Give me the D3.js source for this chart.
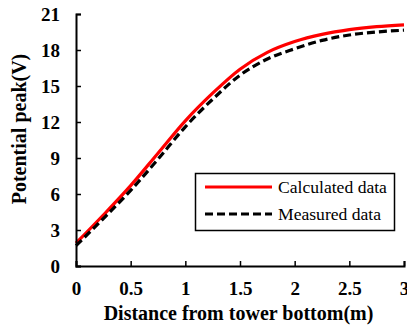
<!DOCTYPE html>
<html><head><meta charset="utf-8">
<script src="https://cdn.jsdelivr.net/npm/d3@7"></script>
<style>body{margin:0;background:#fff}svg{display:block}</style>
</head><body><svg id="c" width="407" height="327" font-family="Liberation Serif"></svg>
<script>
const xValues = [0, 0.25, 0.5, 0.75, 1, 1.25, 1.5, 1.75, 2, 2.25, 2.5, 2.75, 3];
const calculated = [1.9, 4.25, 6.7, 9.4, 12.1, 14.4, 16.4, 17.8, 18.7, 19.3, 19.7, 19.95, 20.1];
const measured = [1.7, 3.95, 6.3, 8.9, 11.6, 13.9, 15.9, 17.25, 18.1, 18.8, 19.25, 19.5, 19.65];
const xTicks = [0, 0.5, 1, 1.5, 2, 2.5, 3];
const yTicks = [0, 3, 6, 9, 12, 15, 18, 21];
const seriesNames = ["Calculated data", "Measured data"];

const svg = d3.select("#c");
const x = d3.scaleLinear().domain([0, 3]).range([76, 404]);
const y = d3.scaleLinear().domain([0, 21]).range([266, 14]);

const line = d3.line().x((d, i) => x(xValues[i])).y(d => y(d)).curve(d3.curveMonotoneX);

svg.append("path").datum(calculated).attr("d", line)
  .attr("fill", "none").attr("stroke", "#ff0000").attr("stroke-width", 3.2);
svg.append("path").datum(measured).attr("d", line)
  .attr("fill", "none").attr("stroke", "#000").attr("stroke-width", 3.2)
  .attr("stroke-dasharray", "8,4");

const xAxis = svg.append("g").attr("transform", "translate(0,266)")
  .call(d3.axisBottom(x).tickValues(xTicks).tickSize(-5).tickPadding(29).tickFormat(d3.format("")));
const yAxis = svg.append("g").attr("transform", "translate(76,0)")
  .call(d3.axisLeft(y).tickValues(yTicks).tickSize(-5).tickPadding(16));
[xAxis, yAxis].forEach(g => {
  g.attr("font-family", "Liberation Serif").attr("font-size", 19).attr("font-weight", "bold");
  g.select(".domain").attr("stroke", "#000").attr("stroke-width", 2);
  g.selectAll(".tick line").attr("stroke", "#000").attr("stroke-width", 1.5);
  g.selectAll("text").attr("fill", "#000");
});
xAxis.selectAll("text").attr("dy", "0");
yAxis.selectAll("text").attr("dy", "0.34em");

svg.append("text").attr("x", 238.5).attr("y", 320).attr("text-anchor", "middle")
  .attr("font-size", 20).attr("font-weight", "bold")
  .text("Distance from tower bottom(m)");
svg.append("text").attr("transform", "translate(26,129) rotate(-90)")
  .attr("text-anchor", "middle")
  .attr("font-size", 20).attr("font-weight", "bold")
  .text("Potential peak(V)");

const lg = svg.append("g");
lg.append("rect").attr("x", 195.5).attr("y", 173.5).attr("width", 199).attr("height", 57)
  .attr("fill", "#fff").attr("stroke", "#000").attr("stroke-width", 1.5);
const styles = [{c: "#ff0000", d: null}, {c: "#000", d: "8,4"}];
seriesNames.forEach((n, i) => {
  const yy = 187 + i * 27;
  lg.append("line").attr("x1", 205).attr("x2", 272).attr("y1", yy).attr("y2", yy)
    .attr("stroke", styles[i].c).attr("stroke-width", 3.2).attr("stroke-dasharray", styles[i].d);
  lg.append("text").attr("x", 278).attr("y", yy + 6)
    .attr("font-size", 17.6).text(n);
});
</script></body></html>
